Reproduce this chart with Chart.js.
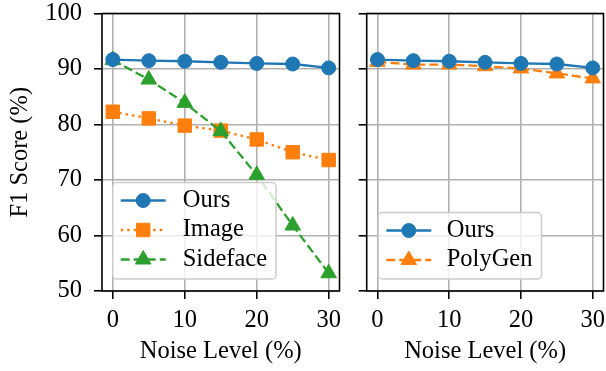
<!DOCTYPE html>
<html><head><meta charset="utf-8">
<script src="https://cdn.jsdelivr.net/npm/chart.js@4.4.0/dist/chart.umd.min.js"></script>
<style>
html,body{margin:0;padding:0;background:#fff;}
#wrap{position:relative;width:606px;height:371px;overflow:hidden;}
canvas{position:absolute;top:0;}
#cL{left:0;} #cR{left:350px;}
</style></head><body>
<div id="wrap"><canvas id="cL" width="342" height="371"></canvas><canvas id="cR" width="256" height="371"></canvas></div>
<script>
'use strict';
// Données (bruit en %, F1 en %)
const NOISE = [0, 5, 10, 15, 20, 25, 30];
const X_TICKS = [0, 10, 20, 30];
const Y_TICKS = [50, 60, 70, 80, 90, 100];
const OURS = [91.7, 91.5, 91.4, 91.2, 91.0, 90.9, 90.2];
const IMAGE = [82.3, 81.1, 79.8, 78.9, 77.3, 75.0, 73.6];
const SIDEFACE = [91.6, 88.1, 83.9, 78.8, 70.9, 61.8, 53.2];
const POLYGEN = [91.3, 90.8, 90.8, 90.5, 90.1, 89.2, 88.3];

const BLUE = '#1f77b4', ORANGE = '#ff7f0e', GREEN = '#2ca02c';
const FONT = { family: '"Liberation Serif", serif', size: 24.5 };
const pts = ys => NOISE.map((x, i) => ({ x, y: ys[i] }));

// Cadre noir autour de la zone de tracé (spines matplotlib)
const frame = { id: 'frame', afterDatasetsDraw(c) {
  const { ctx, chartArea: a } = c;
  ctx.save(); ctx.strokeStyle = '#000'; ctx.lineWidth = 1.6;
  ctx.strokeRect(a.left, a.top, a.right - a.left, a.bottom - a.top); ctx.restore();
} };

// Légende encadrée dans le coin bas-gauche, style matplotlib
const boxLegend = { id: 'boxLegend', afterDraw(c, args, o) {
  const { ctx, chartArea: a } = c;
  const items = c.data.datasets;
  ctx.save();
  ctx.font = `${FONT.size}px ${FONT.family}`;
  const tw = Math.max(...items.map(d => ctx.measureText(d.label).width));
  const w = o.textX + tw + 9, h = 17.5 + 30 * (items.length - 1) + 19;
  const x0 = a.left + o.dx, y0 = a.bottom - o.dy - h;
  ctx.beginPath(); ctx.roundRect(x0, y0, w, h, 4);
  ctx.fillStyle = 'rgba(255,255,255,0.8)'; ctx.fill();
  ctx.strokeStyle = '#cccccc'; ctx.lineWidth = 1.5; ctx.stroke();
  items.forEach((d, i) => {
    const y = y0 + 18 + 29.5 * i;
    ctx.setLineDash(d.borderDash || []); ctx.strokeStyle = d.borderColor; ctx.lineWidth = d.borderWidth;
    ctx.beginPath(); ctx.moveTo(x0 + 8, y); ctx.lineTo(x0 + 53, y); ctx.stroke();
    ctx.setLineDash([]); ctx.fillStyle = d.borderColor; ctx.lineWidth = 1;
    Chart.helpers.drawPoint(ctx, { pointStyle: d.pointStyle, radius: d.pointRadius, rotation: 0, borderWidth: 1 }, x0 + 30.5, y);
    ctx.fillStyle = '#000'; ctx.textBaseline = 'middle'; ctx.textAlign = 'left';
    ctx.fillText(d.label, x0 + o.textX, y);
  });
  ctx.restore();
} };

function ds(label, ys, color, style, extra) {
  return Object.assign({ label, data: pts(ys), borderColor: color, backgroundColor: color, borderWidth: 2.3,
    pointStyle: style, pointRadius: style === 'rect' ? 9.5 : (style === 'triangle' ? 9 : 7), pointBorderWidth: 1, tension: 0 }, extra || {});
}

const noPad = s => { s.paddingTop = 0; s.paddingBottom = 0; s.paddingLeft = 0; s.paddingRight = 0; };

function mk(id, datasets, opts) {
  const grid = { color: '#b0b0b0', lineWidth: 1.6, tickLength: 8, tickColor: '#000', tickWidth: 1.6 };
  return new Chart(document.getElementById(id), {
    type: 'line',
    data: { datasets },
    options: {
      responsive: false, animation: false, events: [], devicePixelRatio: 1,
      layout: { autoPadding: false, padding: { top: 13.5, right: 2.5, left: 0, bottom: 0 } },
      plugins: { legend: { display: false }, tooltip: { enabled: false }, boxLegend: opts.legend },
      scales: {
        x: { type: 'linear', min: -1.5, max: 31.5,
          afterBuildTicks: s => { s.ticks = X_TICKS.map(v => ({ value: v })); },
          ticks: { font: FONT, color: '#000', padding: 7, maxRotation: 0 },
          grid, border: { display: false },
          title: { display: true, text: 'Noise Level (%)', font: FONT, color: '#000', padding: 5 },
          afterFit: s => { s.height = 80; noPad(s); } },
        y: { type: 'linear', min: 50, max: 100,
          afterBuildTicks: s => { s.ticks = Y_TICKS.map(v => ({ value: v })); },
          ticks: { display: opts.yLabels, font: FONT, color: '#000', padding: 12 },
          grid, border: { display: false },
          title: { display: opts.yLabels, text: 'F1 Score (%)', font: FONT, color: '#000', padding: 6 },
          afterFit: s => { s.width = opts.yWidth; noPad(s); } },
      },
    },
    plugins: [frame, boxLegend],
  });
}

mk('cL', [
  ds('Ours', OURS, BLUE, 'circle', { order: 0 }),
  ds('Image', IMAGE, ORANGE, 'rect', { borderDash: [2.5, 4], order: 2 }),
  ds('Sideface', SIDEFACE, GREEN, 'triangle', { borderDash: [9, 4], order: 1 }),
], { yLabels: true, yWidth: 102, legend: { dx: 10.7, dy: 12, textX: 70 } });

mk('cR', [
  ds('Ours', OURS, BLUE, 'circle'),
  ds('PolyGen', POLYGEN, ORANGE, 'triangle', { borderDash: [9, 4] }),
], { yLabels: false, yWidth: 16.7, legend: { dx: 11.6, dy: 12, textX: 68.4 } });
</script>
</body></html>
